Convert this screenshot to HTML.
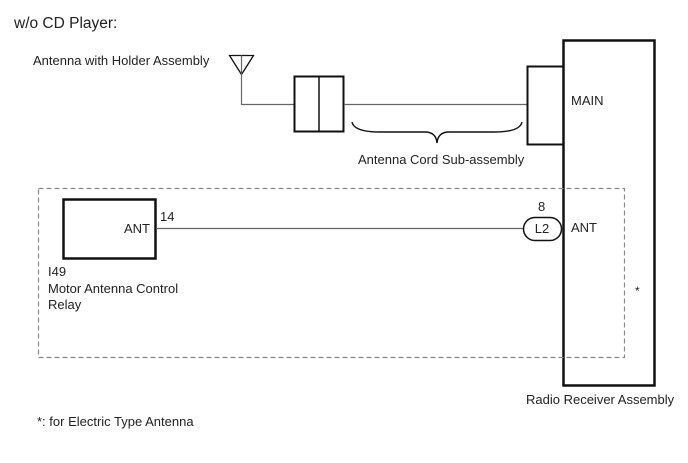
<!DOCTYPE html>
<html><head><meta charset="utf-8"><style>
html,body{margin:0;padding:0;background:#fff;}
svg{display:block;}
text{font-family:"Liberation Sans",Arial,sans-serif;fill:#222;}
</style></head><body>
<svg width="688" height="463" viewBox="0 0 688 463" xmlns="http://www.w3.org/2000/svg">
<text x="14" y="28" font-size="15.5">w/o CD Player:</text>
<text x="33" y="65" font-size="13">Antenna with Holder Assembly</text>
<path d="M229.5 55.5 L253.5 55.5 L241.5 74.5 Z" fill="none" stroke="#111" stroke-width="1.3"/>
<path d="M241.5 55.5 V104.5 H294" fill="none" stroke="#666" stroke-width="1.2"/>
<rect x="294.5" y="76.5" width="49" height="55" fill="none" stroke="#111" stroke-width="2"/>
<line x1="319" y1="77" x2="319" y2="131" stroke="#111" stroke-width="1.5"/>
<line x1="344" y1="104.5" x2="527" y2="104.5" stroke="#666" stroke-width="1.2"/>
<path d="M352 122 Q354 132 380 132 L425 132 Q436 132 437 143 Q438 132 449 132 L494 132 Q520 132 522 122" fill="none" stroke="#111" stroke-width="1.4"/>
<text x="358" y="164" font-size="13">Antenna Cord Sub-assembly</text>
<rect x="527.5" y="66.5" width="36" height="78" fill="none" stroke="#111" stroke-width="2"/>
<rect x="563.5" y="40.5" width="91" height="345" fill="none" stroke="#111" stroke-width="2.5"/>
<text x="571" y="105" font-size="13">MAIN</text>
<text x="571" y="232" font-size="13">ANT</text>
<text x="635" y="295" font-size="12">*</text>
<text x="526" y="404" font-size="13">Radio Receiver Assembly</text>
<rect x="38.5" y="188.5" width="586" height="169" fill="none" stroke="#888" stroke-width="1.2" stroke-dasharray="5,3"/>
<rect x="63.5" y="199.5" width="92" height="59" fill="#fff" stroke="#111" stroke-width="2.5"/>
<text x="124" y="233" font-size="13">ANT</text>
<text x="160" y="221" font-size="13">14</text>
<line x1="156" y1="228.5" x2="524" y2="228.5" stroke="#666" stroke-width="1.2"/>
<rect x="523.5" y="217.5" width="38" height="23" rx="11.5" fill="#fff" stroke="#111" stroke-width="1.5"/>
<text x="542" y="233" font-size="13" text-anchor="middle">L2</text>
<text x="538" y="211" font-size="13">8</text>
<text x="48" y="276" font-size="13">I49</text>
<text x="48" y="293" font-size="13">Motor Antenna Control</text>
<text x="48" y="309" font-size="13">Relay</text>
<text x="37" y="426" font-size="13">*: for Electric Type Antenna</text>
</svg>
</body></html>
